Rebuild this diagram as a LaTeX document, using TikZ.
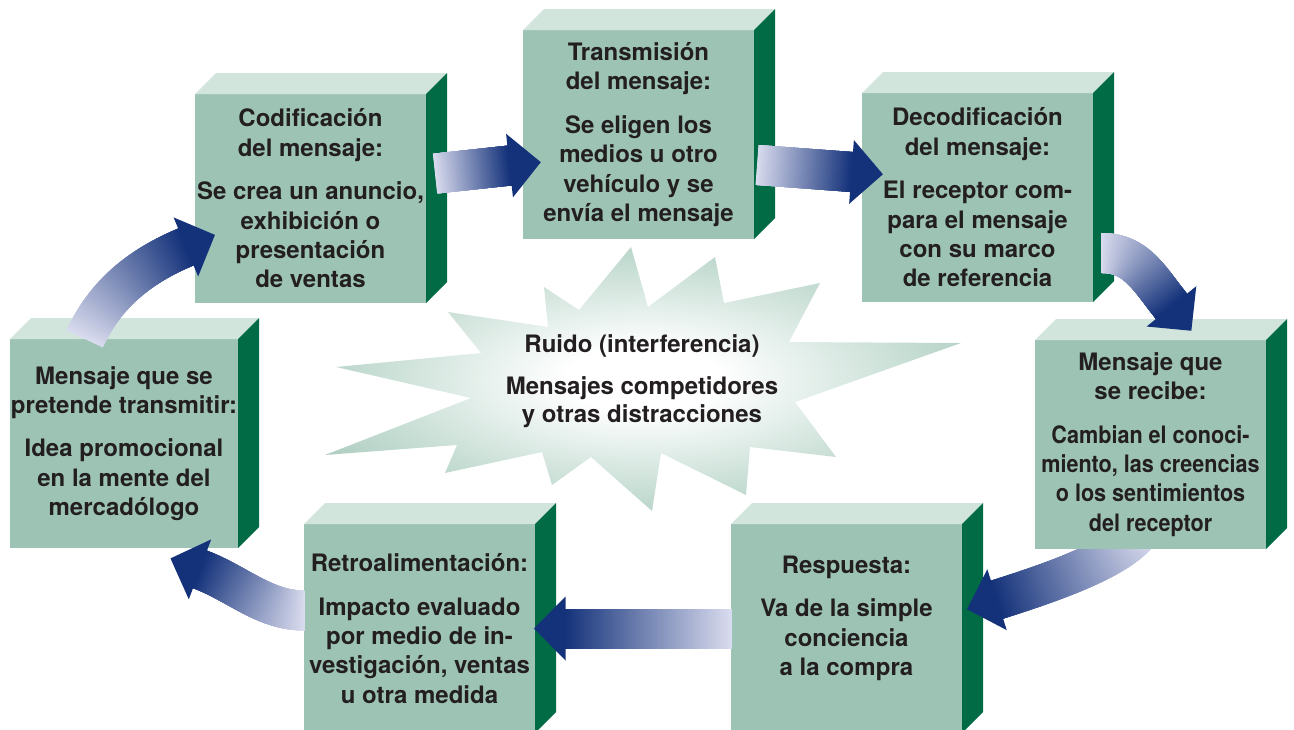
\documentclass[tikz,border=0pt]{standalone}
\usepackage{fontspec}
\setmainfont{TeX Gyre Heros}
\usepackage{graphicx}
\usetikzlibrary{calc, decorations.markings}
\definecolor{boxfront}{HTML}{9DC3B4}
\definecolor{boxtopc}{HTML}{D2E5DD}
\definecolor{boxsidec}{HTML}{006B44}
\definecolor{arrowlight}{HTML}{D9DBEE}
\definecolor{arrowdark}{HTML}{14327A}
\definecolor{inktext}{HTML}{231F20}
\definecolor{noisemid}{HTML}{C4DCD2}
\definecolor{noiseedge}{HTML}{6E9F8B}
\pgfdeclareradialshading{noiseshade}{\pgfpoint{0bp}{0bp}}{color(0bp)=(white); color(6bp)=(white); color(22bp)=(noisemid); color(50bp)=(noiseedge); color(100bp)=(noiseedge)}
\pgfdeclarelayer{front}
\pgfsetlayers{main,front}
% squeezed line of text
\newcommand{\narrow}[1]{\scalebox{0.9}[1]{#1}}
% top and side faces of a stage block
\newcommand{\stagefaces}[1]{%
  \fill[boxtopc] (#1.north west) -- ++(21,-21) -- ([shift={(21,-21)}]#1.north east) -- (#1.north east) -- cycle;
  \fill[boxsidec] (#1.north east) -- ++(21,-21) -- ([shift={(21,-21)}]#1.south east) -- (#1.south east) -- cycle;}
\tikzset{
  % front face of a stage block
  stage/.style={rectangle, fill=boxfront, outer sep=0pt, inner sep=0pt,
                minimum width=115.5pt, minimum height=104.5pt, anchor=north west,
                align=center, text=inktext,
                font=\bfseries\fontsize{12pt}{14.7pt}\selectfont},
  % text of the noise burst
  noisetext/.style={align=center, text=inktext,
                    font=\bfseries\fontsize{12pt}{14pt}\selectfont},
  % fat shaded arrow along a path
  fatarrow/.style={decorate, decoration={markings,
      mark=between positions 0 and 1 step 0.004 with {
        \pgfmathtruncatemacro{\pct}{100*\pgfkeysvalueof{/pgf/decoration/mark info/distance from start}/\pgfdecoratedpathlength}
        \fill[arrowdark!\pct!arrowlight] (-1,-20) rectangle (1,20);},
      mark=at position 1 with {\fill[arrowdark] (-0.5,-32) -- (31,0) -- (-0.5,32) -- cycle;}}},
}
\begin{document}
\begin{tikzpicture}[x=0.5pt,y=-0.5pt]
  \useasboundingbox (0,0) rectangle (1294,729);
  % noise burst
  \shade[shading=noiseshade] (631,247) -- (648,307) -- (715,257) -- (724,303)
    -- (820,283) -- (789,342) -- (961,343) -- (795,402) -- (836,457) -- (750,447)
    -- (746,495) -- (661,453) -- (652,511) -- (591,457) -- (552,485) -- (542,452)
    -- (445,473) -- (457,445) -- (325,455) -- (471,398) -- (336,367) -- (481,353)
    -- (448,312) -- (548,327) -- (544,287) -- (579,310) -- cycle;
  \node[noisetext] (noise) at (642,381)
    {Ruido (interferencia)\\[7pt]Mensajes competidores\\y otras distracciones};
  % stages
  \node[stage, minimum width=114pt] (pret) at (10,339)
    {Mensaje que se\\pretende transmitir:\\[7pt]Idea promocional\\en la mente del\\mercadólogo};
  \stagefaces{pret}
  \node[stage] (cod) at (195,94)
    {Codificación\\del mensaje:\\[7pt]Se crea un anuncio,\\exhibición o\\presentación\\de ventas};
  \stagefaces{cod}
  \node[stage] (trans) at (523,30)
    {Transmisión\\del mensaje:\\[7pt]Se eligen los\\medios u otro\\vehículo y se\\envía el mensaje};
  \stagefaces{trans}
  \node[stage] (dec) at (862,93)
    {Decodificación\\del mensaje:\\[7pt]El receptor com-\\para el mensaje\\con su marco\\de referencia};
  \stagefaces{dec}
  \node[stage] (resp) at (731,524)
    {Respuesta:\\[7pt]Va de la simple\\conciencia\\a la compra\\[-2pt]\mbox{}};
  \stagefaces{resp}
  \node[stage] (retro) at (304,524)
    {Retroalimentación:\\[7pt]Impacto evaluado\\por medio de in-\\vestigación, ventas\\u otra medida};
  \stagefaces{retro}
  \begin{pgfonlayer}{front}
    \node[stage] (rec) at (1035,340)
      {Mensaje que\\se recibe:\\[7pt]\narrow{Cambian el conoci-}\\\narrow{miento, las creencias}\\\narrow{o los sentimientos}\\\narrow{del receptor}};
    \stagefaces{rec}
  \end{pgfonlayer}
  % arrows
  \path[fatarrow] ([shift={(10,-25)}]cod.east) -- ([shift={(-13,31)}]trans.west);
  \path[fatarrow] ([shift={(4,30.5)}]trans.east) -- ([shift={(-10,-25.5)}]dec.west);
  \begin{pgfonlayer}{front}
    \path[fatarrow] ([shift={(9,55.5)}]dec.east)
      .. controls +(35,0) and +(-22,-27) .. ([shift={(21.5,-33)}]rec.north);
  \end{pgfonlayer}
  \path[fatarrow] ([shift={(-10,-19)}]rec.south)
    .. controls +(-20,30) and +(47,-15) .. ([shift={(34,-28.5)}]resp.east);
  \path[fatarrow] (resp.west) -- ([shift={(30,0)}]retro.east);
  \path[fatarrow] ([shift={(0,-18)}]retro.west)
    .. controls +(-40,0) and +(38,14) .. ([shift={(75,21)}]pret.south);
  \path[fatarrow] ([shift={(-39,-1)}]pret.north)
    .. controls +(21,-45) and +(-46,19) .. ([shift={(-8,48)}]cod.west);
\end{tikzpicture}
\end{document}
